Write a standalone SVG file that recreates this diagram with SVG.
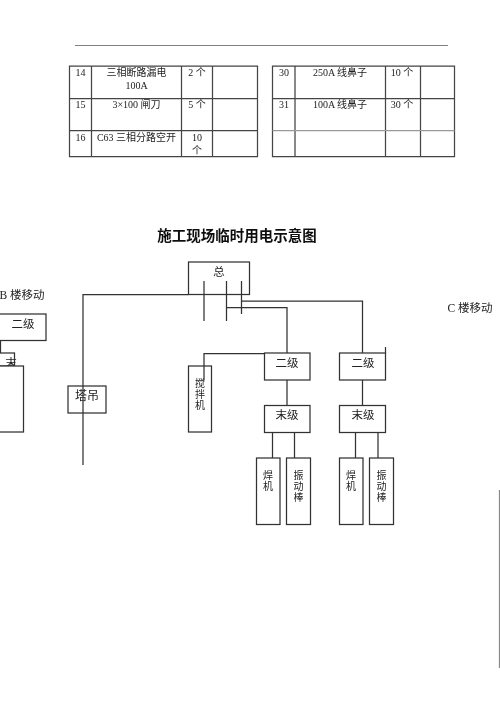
<svg xmlns="http://www.w3.org/2000/svg" width="500" height="707" viewBox="0 0 500 707">
<style>
text{font-family:"Liberation Serif","Noto Sans CJK SC",serif;font-size:10px;fill:#222;text-anchor:middle;font-weight:400}
.l{fill:none;stroke:#333;stroke-width:1.25}
.n rect{fill:#fff;stroke:#333;stroke-width:1.25}
.t{stroke:#444;stroke-width:1.25;fill:none}
.lab{font-size:11.5px}
.v{font-size:10px}
</style>
<defs><filter id="soft" x="0" y="0" width="100%" height="100%"><feGaussianBlur stdDeviation="0.3"/></filter></defs>
<rect width="500" height="707" fill="#fff"/>
<g filter="url(#soft)">
<path d="M75 45H448" stroke="#555" stroke-width="1.4"/>
<g id="table-left" class="t">
<path d="M69.500 66H257.500V156.500H69.500ZM69.500 98.500H257.500M69.500 130.500H257.500M91.500 66V156.500M181.500 66V156.500M212.500 66V156.500"/>
</g>
<g id="table-right" class="t">
<path d="M272.500 66H454.500V156.500H272.500ZM272.500 98.500H454.500M295 66V156.500M385.500 66V156.500M420.500 66V156.500"/>
<path d="M272.500 130.500H454.500" stroke="#999"/>
</g>
<g id="table-text">
<text x="80.500" y="76">14</text><text x="136.500" y="76">三相断路漏电</text><text x="136.500" y="89">100A</text><text x="197" y="76">2 个</text>
<text x="80.500" y="108">15</text><text x="136.500" y="108">3×100 闸刀</text><text x="197" y="108">5 个</text>
<text x="80.500" y="141">16</text><text x="136.500" y="141">C63 三相分路空开</text><text x="197" y="141">10</text><text x="197" y="154">个</text>
<text x="284" y="76">30</text><text x="340" y="76">250A 线鼻子</text><text x="402" y="76">10 个</text>
<text x="284" y="108">31</text><text x="340" y="108">100A 线鼻子</text><text x="402" y="108">30 个</text>
</g>
<text id="title" x="237" y="241" style="font-size:14.500px;font-weight:700;fill:#111">施工现场临时用电示意图</text>
<text id="label-b" x="22" y="299" class="lab">B 楼移动</text>
<text id="label-c" x="470" y="312" class="lab">C 楼移动</text>
<g id="node-zong" class="n"><rect x="188.500" y="262" width="61" height="32.500"/><text x="219" y="276" class="lab">总</text></g>
<g id="node-b-erji" class="n"><rect x="-2" y="314" width="48" height="26.500"/><text x="23" y="328" class="lab">二级</text></g>
<g id="node-b-moji" class="n"><rect x="-2" y="353" width="16.500" height="13"/><text x="11" y="367" class="lab">末</text></g>
<g id="node-b-box" class="n"><rect x="-2" y="366" width="25.500" height="66"/></g>
<g id="node-tadiao" class="n"><rect x="68" y="386" width="38" height="27"/><text x="87" y="400" style="font-size:12px">塔吊</text></g>
<g id="node-jiaoban" class="n"><rect x="188.500" y="366" width="23" height="66"/><text x="200" y="387" class="v">搅</text><text x="200" y="398" class="v">拌</text><text x="200" y="409" class="v">机</text></g>
<g id="node-erji-1" class="n"><rect x="264.500" y="353" width="45.500" height="27"/><text x="287" y="367" class="lab">二级</text></g>
<g id="node-erji-2" class="n"><rect x="339.500" y="353" width="46" height="27"/><text x="363" y="367" class="lab">二级</text></g>
<g id="node-moji-1" class="n"><rect x="264.500" y="405.500" width="45.500" height="27"/><text x="287" y="419" class="lab">末级</text></g>
<g id="node-moji-2" class="n"><rect x="339.500" y="405.500" width="46" height="27"/><text x="363" y="419" class="lab">末级</text></g>
<g id="node-hanji-1" class="n"><rect x="256.500" y="458" width="23.500" height="66.500"/><text x="268" y="479" class="v">焊</text><text x="268" y="490" class="v">机</text></g>
<g id="node-zhendong-1" class="n"><rect x="286.500" y="458" width="24" height="66.500"/><text x="298.500" y="479" class="v">振</text><text x="298.500" y="490" class="v">动</text><text x="298.500" y="501" class="v">棒</text></g>
<g id="node-hanji-2" class="n"><rect x="339.500" y="458" width="23.500" height="66.500"/><text x="351" y="479" class="v">焊</text><text x="351" y="490" class="v">机</text></g>
<g id="node-zhendong-2" class="n"><rect x="369.500" y="458" width="24" height="66.500"/><text x="381.500" y="479" class="v">振</text><text x="381.500" y="490" class="v">动</text><text x="381.500" y="501" class="v">棒</text></g>
<g id="connectors" class="l">
<path d="M188.500 294.500H83V465"/>
<path d="M204 281V321M226.500 281V321M241.500 281V314"/>
<path d="M241.500 301H362.500V353"/>
<path d="M226.500 307.500H287V353"/>
<path d="M264.500 353.500H204V380"/>
<path d="M385.500 347V353"/>
<path d="M287 380V405.500M362.500 380V405.500"/>
<path d="M272.500 432.500V458M294.500 432.500V458M355.500 432.500V458M378 432.500V458"/>
<path d="M0.500 340V353"/>
<path d="M499.500 490V668" stroke="#888"/>
</g>
</g>
</svg>
